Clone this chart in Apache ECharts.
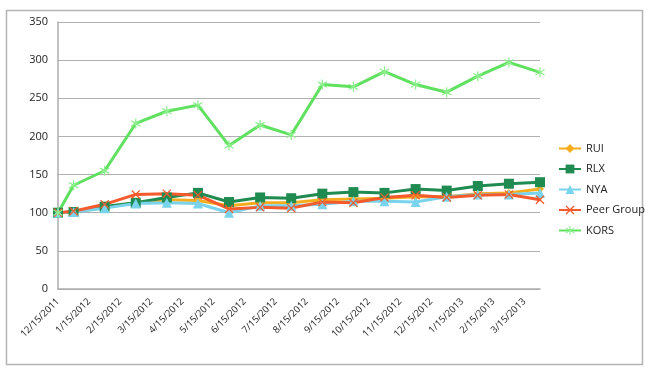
<!DOCTYPE html>
<html>
<head>
<meta charset="utf-8">
<script src="https://cdn.jsdelivr.net/npm/echarts@6/dist/echarts.min.js"></script>
<style>
  html, body { margin: 0; padding: 0; background: #fff; }
  #main { width: 650px; height: 376px; }
</style>
</head>
<body>
<div id="main"></div>
<script>
// tick labels (15th of each month)
var xLabels = ['12/15/2011','1/15/2012','2/15/2012','3/15/2012','4/15/2012','5/15/2012',
  '6/15/2012','7/15/2012','8/15/2012','9/15/2012','10/15/2012','11/15/2012',
  '12/15/2012','1/15/2013','2/15/2013','3/15/2013'];
// data dates in months from 12/15/2011 (month ends after the start point)
var xPos = [0, 0.5, 1.5, 2.5, 3.5, 4.5, 5.5, 6.5, 7.5, 8.5, 9.5, 10.5, 11.5, 12.5, 13.5, 14.5, 15.5];

var rui  = [100,101,107,113,117,116,109,113,113,117,118,119,121,121,125,126,131];
var rlx  = [100,101,108,113,120,126,114,120,119,125,127,126,131,129,135,138,140];
var nya  = [100,101,106,112,113,112,100,109,109,111,115,115,114,121,124,124,126];
var peer = [100,102,111,124,125,123,105,107,106,114,113,120,123,120,123,124,117];
var kors = [100,136,155,217,233,241,188,215,202,268,265,285,268,258,279,297,284];

var font = '"Open Sans", "DejaVu Sans", sans-serif';

function pts(vals) {
  return vals.map(function (v, i) { return [xPos[i], v]; });
}

var crossPath = 'path://M0,2 L2,0 L10,8 L18,0 L20,2 L12,10 L20,18 L18,20 L10,12 L2,20 L0,18 L8,10 Z';
var starPath = 'path://M9,0 L11,0 L11,7.6 L17.3,3.6 L18.4,5.3 L12.2,10 L18.4,14.7 L17.3,16.4 L11,12.4 L11,20 L9,20 L9,12.4 L2.7,16.4 L1.6,14.7 L7.8,10 L1.6,5.3 L2.7,3.6 L9,7.6 Z';

function line(name, vals, color, symbol, size, symColor) {
  return {
    name: name,
    type: 'line',
    data: pts(vals),
    symbol: symbol,
    symbolSize: size,
    showAllSymbol: true,
    lineStyle: { color: color, width: 3 },
    itemStyle: { color: symColor || color, borderWidth: 0 },
    emphasis: { disabled: true }
  };
}

var myChart = echarts.init(document.getElementById('main'));
var option = {
  animation: false,
  color: ['#f5ad1d', '#1f8b50', '#79d3ec', '#f45a2c', '#5fe05f'],
  graphic: [{
    type: 'rect',
    shape: { x: 6.5, y: 10.5, width: 636, height: 354 },
    style: { fill: 'none', stroke: '#b4b4b4', lineWidth: 1.5 },
    silent: true
  }],
  grid: { left: 58, top: 22, right: 110, bottom: 87 },
  legend: {
    orient: 'vertical',
    left: 553,
    top: 138,
    itemGap: 9.5,
    itemWidth: 22,
    itemHeight: 11,
    textStyle: { fontFamily: font, fontSize: 11, color: '#222' },
    data: ['RUI', 'RLX', 'NYA', 'Peer Group', 'KORS']
  },
  xAxis: {
    type: 'value',
    min: 0,
    max: 15.5,
    interval: 1,
    axisLine: { show: true, lineStyle: { color: '#adadad', width: 1.5 } },
    axisTick: { show: false },
    splitLine: { show: false },
    axisLabel: {
      rotate: 45,
      margin: 11,
      fontFamily: font,
      fontSize: 9.5,
      color: '#222',
      showMaxLabel: false,
      formatter: function (v) { return xLabels[v] || ''; }
    }
  },
  yAxis: {
    type: 'value',
    min: 0,
    max: 350,
    interval: 50,
    axisLine: { show: true, lineStyle: { color: '#adadad', width: 1.5 } },
    axisTick: { show: false },
    splitLine: { lineStyle: { color: '#b0b0b0', width: 1.2 } },
    axisLabel: { fontFamily: font, fontSize: 11, color: '#222', margin: 10 }
  },
  series: [
    line('RUI', rui, '#f5ad1d', 'diamond', 8),
    line('RLX', rlx, '#1f8b50', 'rect', 10),
    line('NYA', nya, '#79d3ec', 'triangle', 10),
    line('Peer Group', peer, '#f45a2c', crossPath, 9),
    line('KORS', kors, '#5fe05f', starPath, 10, '#8cef8c')
  ]
};
myChart.setOption(option);
</script>
</body>
</html>
